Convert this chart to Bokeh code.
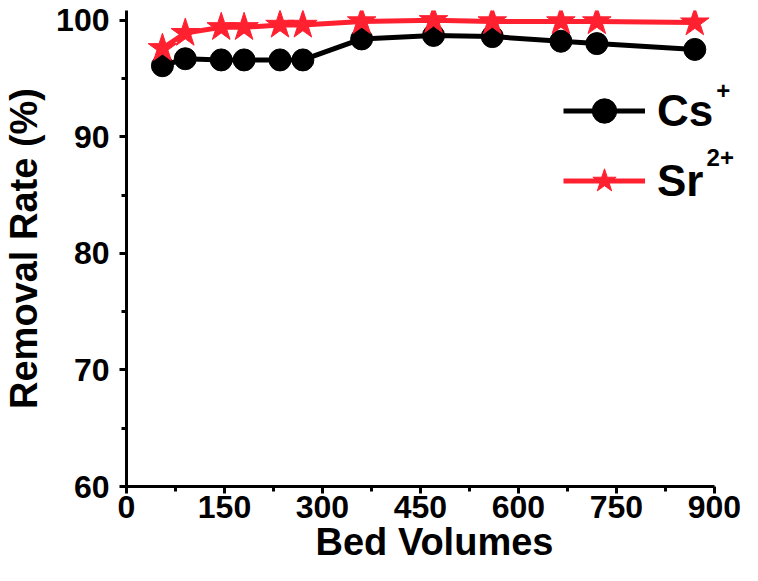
from bokeh.plotting import figure
from bokeh.models import Range1d, FixedTicker, Legend, LegendItem, Label
from bokeh.embed import file_html
from bokeh.resources import INLINE

bed_volumes = [55, 90, 145, 180, 235, 270, 360, 470, 560, 665, 720, 870]
cs_removal = [96.1, 96.7, 96.6, 96.6, 96.6, 96.6, 98.4, 98.7, 98.6, 98.2, 98.0, 97.5]
sr_removal = [97.6, 98.9, 99.4, 99.4, 99.6, 99.6, 99.9, 100.0, 99.9, 99.9, 99.9, 99.8]
x_ticks = [0, 150, 300, 450, 600, 750, 900]
x_minor = [75, 225, 375, 525, 675, 825]
y_ticks = [60, 70, 80, 90, 100]
y_minor = [65, 75, 85, 95]
series_names = ["Cs", "Sr"]
series_charges = ["+", "2+"]

FONT = "Liberation Sans"
RED = "#ff2030"

# frame runs to the right canvas edge; the x axis itself is bounded to 0..900
p = figure(width=742, height=565, output_backend="svg", toolbar_location=None,
           x_range=Range1d(0, 943), y_range=Range1d(60, 100.84),
           min_border_left=126, min_border_right=0, min_border_top=10, min_border_bottom=70)
p.outline_line_color = None
p.xgrid.grid_line_color = None
p.ygrid.grid_line_color = None

for ax in (p.xaxis[0], p.yaxis[0]):
    ax.axis_line_width = 3
    ax.major_tick_line_width = 3
    ax.minor_tick_line_width = 3
    ax.major_tick_out = 7
    ax.major_tick_in = 0
    ax.minor_tick_out = 5
    ax.minor_tick_in = 0
    ax.major_label_text_font = FONT
    ax.major_label_text_font_style = "bold"
    ax.major_label_text_font_size = "32px"
    ax.major_label_text_color = "black"
    ax.axis_label_text_font = FONT
    ax.axis_label_text_font_style = "bold"
    ax.axis_label_text_font_size = "38px"
    ax.axis_label_text_color = "black"

p.xaxis.bounds = (0, 900)
p.xaxis.ticker = FixedTicker(ticks=x_ticks, minor_ticks=x_minor)
p.yaxis.ticker = FixedTicker(ticks=y_ticks, minor_ticks=y_minor)
p.xaxis.major_label_standoff = 2
p.xaxis.axis_label = "Bed Volumes"
p.xaxis.axis_label_standoff = 0
p.yaxis.major_label_standoff = 10
p.yaxis.axis_label = "Removal Rate (%)"
p.yaxis.axis_label_standoff = 8

cs_line = p.line(bed_volumes, cs_removal, line_color="black", line_width=5)
cs_pts = p.scatter(bed_volumes, cs_removal, marker="circle", size=22,
                   fill_color="black", line_color="black")
sr_line = p.line(bed_volumes, sr_removal, line_color=RED, line_width=5)
sr_pts = p.scatter(bed_volumes, sr_removal, marker="star", size=30,
                   fill_color=RED, line_color=RED)

legend = Legend(items=[LegendItem(label=series_names[0], renderers=[cs_line, cs_pts]),
                       LegendItem(label=series_names[1], renderers=[sr_line, sr_pts])],
                location=(437, 275))
legend.border_line_color = None
legend.background_fill_alpha = 0
legend.padding = 0
legend.margin = 0
legend.glyph_width = 82
legend.glyph_height = 61
legend.label_height = 61
legend.spacing = 9
legend.label_standoff = 12
legend.label_text_font = FONT
legend.label_text_font_style = "bold"
legend.label_text_font_size = "44px"
legend.label_text_color = "black"
p.add_layout(legend, "center")

# superscript charges of the legend labels
for sx, sy, txt in [(903, 94.0, series_charges[0]), (888, 88.2, series_charges[1])]:
    p.add_layout(Label(x=sx, y=sy, text=txt, text_align="left", text_baseline="middle",
                       text_font=FONT, text_font_style="bold", text_font_size="24px",
                       text_color="black"))

open("out.html", "w").write(file_html(p, INLINE))
